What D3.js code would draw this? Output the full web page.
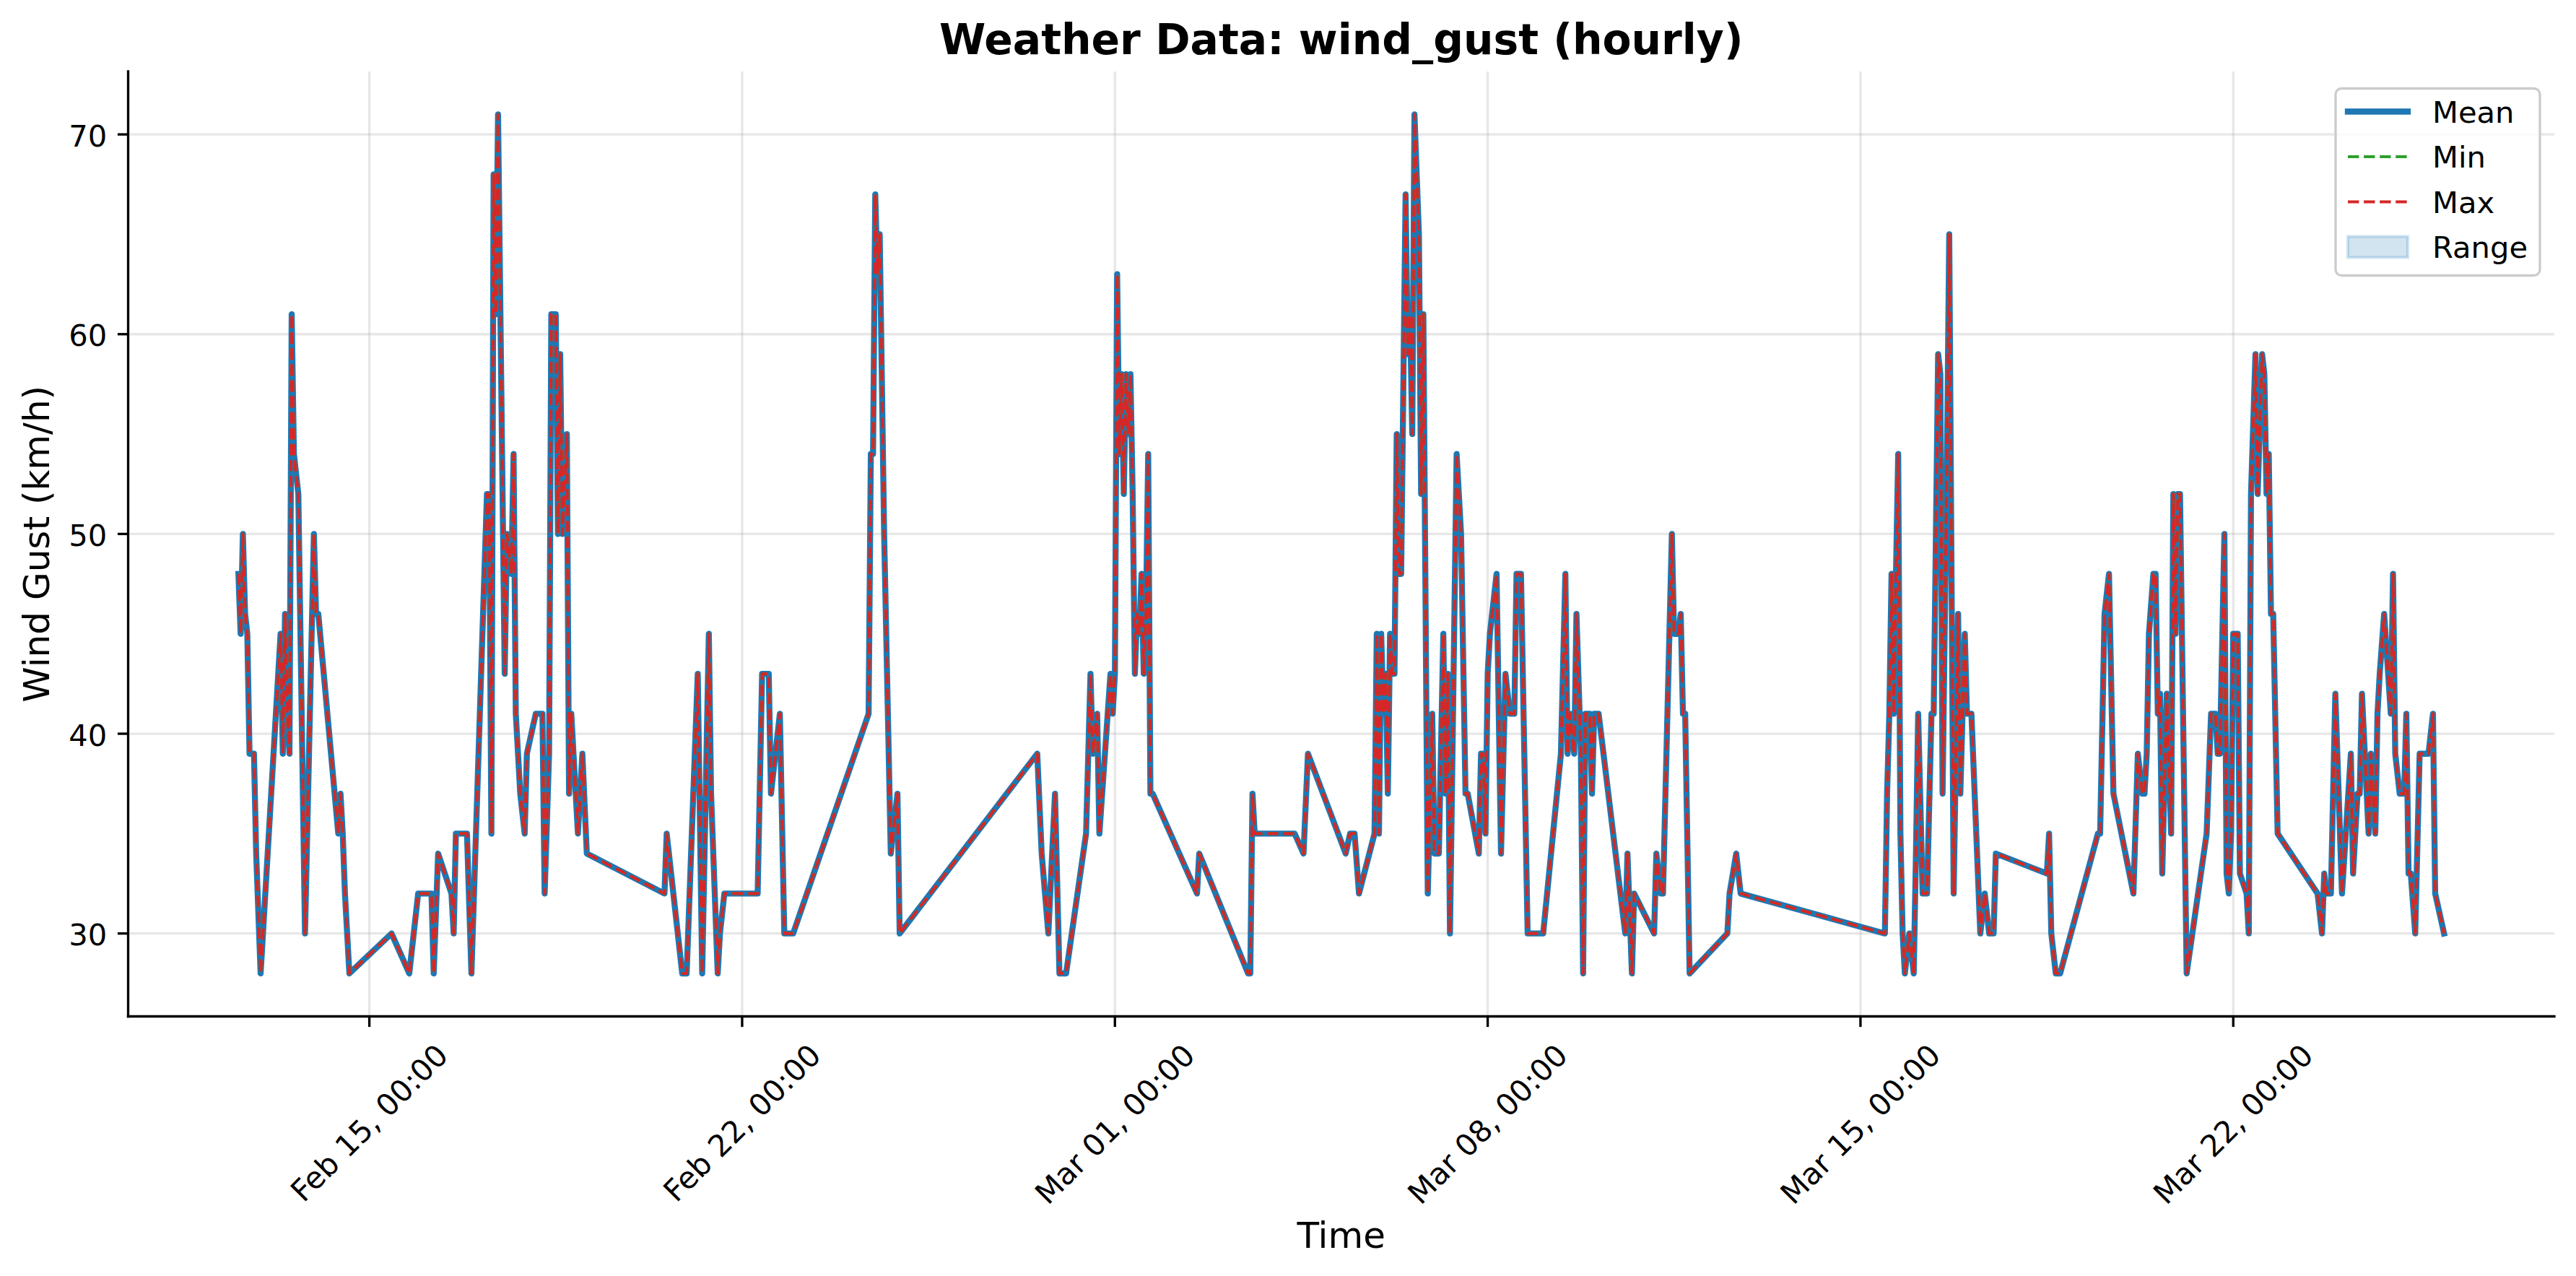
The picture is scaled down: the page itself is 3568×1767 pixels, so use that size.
<!DOCTYPE html>
<html>
<head>
<meta charset="utf-8">
<script src="https://cdn.jsdelivr.net/npm/d3@7"></script>
<style>
html,body{margin:0;padding:0;background:#ffffff;}
svg{display:block;}
</style>
</head>
<body>
<div id="chart"></div>
<script>
// ---------------- DATA ----------------
const dataYear = 2025;
const timeLabels = [
"02-12 13:00","02-12 14:00","02-12 15:00","02-12 16:00","02-12 17:00","02-12 18:00","02-12 20:00","02-12 21:00","02-12 23:00",
"02-13 08:00","02-13 09:00","02-13 10:00","02-13 11:00","02-13 12:00","02-13 13:00","02-13 14:00","02-13 16:00","02-13 19:00","02-13 23:00",
"02-14 00:00","02-14 01:00","02-14 10:00","02-14 11:00","02-14 12:00","02-14 13:00","02-14 15:00",
"02-15 10:00","02-15 18:00","02-15 22:00","02-16 04:00","02-16 05:00","02-16 07:00","02-16 13:00","02-16 14:00","02-16 15:00","02-16 20:00","02-16 22:00",
"02-17 05:00","02-17 06:00","02-17 07:00","02-17 08:00","02-17 09:00","02-17 10:00","02-17 13:00","02-17 14:00","02-17 16:00","02-17 17:00","02-17 18:00","02-17 20:00","02-17 22:00","02-17 23:00",
"02-18 03:00","02-18 06:00","02-18 07:00","02-18 09:00","02-18 10:00","02-18 12:00","02-18 13:00","02-18 14:00","02-18 15:00","02-18 17:00","02-18 18:00","02-18 19:00","02-18 20:00","02-18 22:00",
"02-19 00:00","02-19 02:00",
"02-20 13:00","02-20 14:00","02-20 15:00","02-20 21:00","02-20 23:00","02-21 04:00","02-21 06:00","02-21 09:00","02-21 10:00","02-21 13:00","02-21 14:00","02-21 16:00",
"02-22 07:00","02-22 09:00","02-22 12:00","02-22 13:00","02-22 15:00","02-22 17:00","02-22 19:00","02-22 23:00",
"02-24 09:00","02-24 10:00","02-24 11:00","02-24 12:00","02-24 13:00","02-24 14:00","02-24 16:00","02-24 19:00","02-24 22:00","02-24 23:00",
"02-27 13:00","02-27 15:00","02-27 18:00","02-27 21:00","02-27 23:00","02-28 02:00","02-28 11:00","02-28 12:00","02-28 13:00","02-28 14:00","02-28 16:00","02-28 17:00","02-28 22:00","02-28 23:00",
"03-01 00:00","03-01 01:00","03-01 02:00","03-01 03:00","03-01 04:00","03-01 05:00","03-01 06:00","03-01 07:00","03-01 08:00","03-01 09:00","03-01 10:00","03-01 11:00","03-01 12:00","03-01 13:00","03-01 14:00","03-01 15:00","03-01 16:00","03-01 17:00",
"03-02 13:00","03-02 14:00","03-03 12:00","03-03 13:00","03-03 14:00","03-03 15:00","03-03 16:00","03-04 09:00","03-04 13:00","03-04 15:00",
"03-05 08:00","03-05 10:00","03-05 12:00","03-05 14:00",
"03-05 21:00","03-05 22:00","03-05 23:00","03-06 00:00","03-06 01:00","03-06 02:00","03-06 03:00","03-06 04:00","03-06 05:00","03-06 06:00","03-06 07:00","03-06 08:00","03-06 09:00",
"03-06 11:00","03-06 12:00","03-06 13:00","03-06 14:00","03-06 15:00","03-06 17:00","03-06 18:00","03-06 19:00","03-06 21:00","03-06 23:00",
"03-07 00:00","03-07 02:00","03-07 04:00","03-07 05:00","03-07 06:00","03-07 07:00","03-07 10:00","03-07 12:00","03-07 14:00","03-07 15:00","03-07 20:00","03-07 21:00","03-07 22:00","03-07 23:00",
"03-08 00:00","03-08 01:00","03-08 04:00","03-08 06:00","03-08 08:00","03-08 10:00","03-08 12:00","03-08 13:00","03-08 15:00","03-08 18:00",
"03-09 01:00","03-09 09:00","03-09 11:00","03-09 12:00","03-09 13:00","03-09 15:00","03-09 16:00","03-09 18:00","03-09 19:00","03-09 20:00","03-09 22:00","03-09 23:00",
"03-10 00:00","03-10 02:00","03-10 14:00","03-10 15:00","03-10 17:00","03-10 18:00",
"03-11 03:00","03-11 04:00","03-11 06:00","03-11 07:00","03-11 11:00","03-11 12:00","03-11 14:00","03-11 15:00","03-11 16:00","03-11 17:00","03-11 19:00",
"03-12 12:00","03-12 13:00","03-12 16:00","03-12 18:00",
"03-15 11:00","03-15 12:00","03-15 13:00","03-15 14:00","03-15 15:00","03-15 16:00","03-15 17:00","03-15 18:00","03-15 19:00","03-15 20:00","03-15 22:00",
"03-16 00:00","03-16 01:00","03-16 02:00","03-16 04:00","03-16 06:00","03-16 08:00","03-16 09:00","03-16 11:00","03-16 12:00","03-16 13:00","03-16 15:00","03-16 16:00","03-16 18:00","03-16 20:00","03-16 21:00","03-16 23:00",
"03-17 00:00","03-17 02:00","03-17 06:00","03-17 08:00","03-17 10:00","03-17 12:00","03-17 13:00",
"03-18 12:00","03-18 13:00","03-18 14:00","03-18 16:00","03-18 18:00",
"03-19 11:00","03-19 12:00","03-19 14:00","03-19 16:00","03-19 18:00",
"03-20 03:00","03-20 05:00","03-20 07:00","03-20 08:00","03-20 09:00","03-20 10:00","03-20 12:00","03-20 13:00","03-20 14:00","03-20 15:00","03-20 16:00","03-20 18:00","03-20 20:00","03-20 21:00","03-20 22:00","03-20 23:00",
"03-21 00:00","03-21 03:00","03-21 12:00","03-21 14:00","03-21 16:00","03-21 17:00","03-21 18:00","03-21 20:00","03-21 21:00","03-21 22:00","03-21 23:00",
"03-22 00:00","03-22 02:00","03-22 03:00","03-22 06:00","03-22 07:00","03-22 08:00","03-22 10:00","03-22 11:00","03-22 13:00","03-22 14:00","03-22 15:00","03-22 16:00","03-22 17:00","03-22 18:00","03-22 20:00",
"03-23 14:00","03-23 16:00","03-23 17:00","03-23 18:00","03-23 20:00","03-23 22:00",
"03-24 01:00","03-24 05:00","03-24 06:00","03-24 08:00","03-24 09:00","03-24 10:00","03-24 13:00","03-24 14:00","03-24 16:00","03-24 17:00","03-24 18:00","03-24 20:00","03-24 23:00",
"03-25 00:00","03-25 01:00","03-25 03:00","03-25 05:00","03-25 06:00","03-25 07:00","03-25 08:00","03-25 10:00","03-25 12:00","03-25 16:00","03-25 18:00","03-25 19:00","03-25 23:00"
];

const gustMean = [
48,45,50,46,45,39,39,34,28,
45,39,46,41,39,61,54,52,30,50,
46,46,35,37,35,32,28,
30,28,32,32,28,34,32,30,35,35,28,
52,52,35,68,61,71,43,50,48,54,41,37,35,39,
41,41,32,39,61,61,50,59,50,55,37,41,39,35,
39,34,
32,35,34,28,28,43,28,45,37,28,30,32,
32,43,43,37,39,41,30,30,
41,54,54,67,63,65,50,34,37,30,
39,34,30,37,28,28,35,39,43,39,41,35,43,41,
43,63,54,58,52,58,55,58,52,43,46,45,48,43,46,54,37,37,
32,34,28,28,37,35,35,35,34,39,
34,35,35,32,
35,45,35,45,41,43,37,45,43,43,55,48,48,
67,59,61,55,71,65,52,61,32,41,
34,34,45,37,43,30,54,50,37,37,34,39,39,35,
43,45,48,34,43,41,41,48,48,30,
30,39,48,39,41,39,46,39,28,41,41,37,
41,41,30,34,28,32,
30,34,32,32,50,45,45,46,41,41,28,
30,32,34,32,
30,37,41,48,41,48,54,35,30,28,30,
28,34,41,32,32,41,41,59,58,37,54,65,32,46,37,45,
41,41,30,32,30,30,34,
33,35,30,28,28,
35,35,46,48,37,
32,39,37,37,39,45,48,48,41,42,33,42,35,52,45,52,
52,28,35,41,41,39,39,50,33,32,35,
45,45,33,32,30,52,59,52,59,58,52,54,46,46,35,
32,30,33,32,32,42,
32,39,33,37,37,42,35,39,35,41,43,46,41,
48,39,37,37,41,33,33,30,39,39,41,32,30
];

const gustMin = [
48,45,50,46,45,39,39,34,28,
45,39,46,41,39,61,54,52,30,50,
46,46,35,37,35,32,28,
30,28,32,32,28,34,32,30,35,35,28,
52,52,35,68,61,71,43,50,48,54,41,37,35,39,
41,41,32,39,61,61,50,59,50,55,37,41,39,35,
39,34,
32,35,34,28,28,43,28,45,37,28,30,32,
32,43,43,37,39,41,30,30,
41,54,54,67,63,65,50,34,37,30,
39,34,30,37,28,28,35,39,43,39,41,35,43,41,
43,63,54,58,52,58,55,58,52,43,46,45,48,43,46,54,37,37,
32,34,28,28,37,35,35,35,34,39,
34,35,35,32,
35,45,35,45,41,43,37,45,43,43,55,48,48,
67,59,61,55,71,65,52,61,32,41,
34,34,45,37,43,30,54,50,37,37,34,39,39,35,
43,45,48,34,43,41,41,48,48,30,
30,39,48,39,41,39,46,39,28,41,41,37,
41,41,30,34,28,32,
30,34,32,32,50,45,45,46,41,41,28,
30,32,34,32,
30,37,41,48,41,48,54,35,30,28,30,
28,34,41,32,32,41,41,59,58,37,54,65,32,46,37,45,
41,41,30,32,30,30,34,
33,35,30,28,28,
35,35,46,48,37,
32,39,37,37,39,45,48,48,41,42,33,42,35,52,45,52,
52,28,35,41,41,39,39,50,33,32,35,
45,45,33,32,30,52,59,52,59,58,52,54,46,46,35,
32,30,33,32,32,42,
32,39,33,37,37,42,35,39,35,41,43,46,41,
48,39,37,37,41,33,33,30,39,39,41,32,30
];

const gustMax = [
48,45,50,46,45,39,39,34,28,
45,39,46,41,39,61,54,52,30,50,
46,46,35,37,35,32,28,
30,28,32,32,28,34,32,30,35,35,28,
52,52,35,68,61,71,43,50,48,54,41,37,35,39,
41,41,32,39,61,61,50,59,50,55,37,41,39,35,
39,34,
32,35,34,28,28,43,28,45,37,28,30,32,
32,43,43,37,39,41,30,30,
41,54,54,67,63,65,50,34,37,30,
39,34,30,37,28,28,35,39,43,39,41,35,43,41,
43,63,54,58,52,58,55,58,52,43,46,45,48,43,46,54,37,37,
32,34,28,28,37,35,35,35,34,39,
34,35,35,32,
35,45,35,45,41,43,37,45,43,43,55,48,48,
67,59,61,55,71,65,52,61,32,41,
34,34,45,37,43,30,54,50,37,37,34,39,39,35,
43,45,48,34,43,41,41,48,48,30,
30,39,48,39,41,39,46,39,28,41,41,37,
41,41,30,34,28,32,
30,34,32,32,50,45,45,46,41,41,28,
30,32,34,32,
30,37,41,48,41,48,54,35,30,28,30,
28,34,41,32,32,41,41,59,58,37,54,65,32,46,37,45,
41,41,30,32,30,30,34,
33,35,30,28,28,
35,35,46,48,37,
32,39,37,37,39,45,48,48,41,42,33,42,35,52,45,52,
52,28,35,41,41,39,39,50,33,32,35,
45,45,33,32,30,52,59,52,59,58,52,54,46,46,35,
32,30,33,32,32,42,
32,39,33,37,37,42,35,39,35,41,43,46,41,
48,39,37,37,41,33,33,30,39,39,41,32,30
];

const xTickLabels = ["02-15 00:00","02-22 00:00","03-01 00:00","03-08 00:00","03-15 00:00","03-22 00:00"];
const yTickValues = [30, 40, 50, 60, 70];
const legendLabels = ["Mean", "Min", "Max", "Range"];
const chartTitle = "Weather Data: wind_gust (hourly)";
const xAxisTitle = "Time";
const yAxisTitle = "Wind Gust (km/h)";

// ---------------- LAYOUT ----------------
const W = 3568, H = 1767;
const PT = 300 / 72;               // px per point at 300 dpi
const plot = {left: 177.5, right: 3538, top: 99, bottom: 1407.5};
const FONT = "'DejaVu Sans', 'Liberation Sans', sans-serif";
const tickFS = 10 * PT, labelFS = 12 * PT, titleFS = 14 * PT;
const tickLen = 3.5 * PT, tickPad = 3.5 * PT, spineW = 0.8 * PT;
const C = {mean: "#1f77b4", min: "#2ca02c", max: "#d62728"};

const parseT = d3.utcParse("%Y-%m-%d %H:%M");
const rows = timeLabels.map((s, i) => ({
  t: parseT(dataYear + "-" + s),
  mean: gustMean[i], min: gustMin[i], max: gustMax[i]
}));
const xTicks = xTickLabels.map(s => parseT(dataYear + "-" + s));

// scales with matplotlib-like 5% margins
const tExt = d3.extent(rows, d => d.t);
const tPad = (tExt[1] - tExt[0]) * 0.05;
const x = d3.scaleUtc()
  .domain([new Date(+tExt[0] - tPad), new Date(+tExt[1] + tPad)])
  .range([plot.left, plot.right]);
const vLo = d3.min(rows, d => d.min), vHi = d3.max(rows, d => d.max);
const vPad = (vHi - vLo) * 0.05;
const y = d3.scaleLinear().domain([vLo - vPad, vHi + vPad]).range([plot.bottom, plot.top]);

const svg = d3.select("#chart").append("svg")
  .attr("width", W).attr("height", H)
  .attr("viewBox", `0 0 ${W} ${H}`)
  .style("font-family", FONT);
svg.append("rect").attr("width", W).attr("height", H).attr("fill", "#ffffff");

// grid
const grid = svg.append("g").attr("stroke", "#b0b0b0").attr("stroke-opacity", 0.3).attr("stroke-width", spineW);
grid.selectAll("line.gx").data(xTicks).join("line")
  .attr("x1", d => x(d)).attr("x2", d => x(d)).attr("y1", plot.top).attr("y2", plot.bottom);
grid.selectAll("line.gy").data(yTickValues).join("line")
  .attr("x1", plot.left).attr("x2", plot.right).attr("y1", d => y(d)).attr("y2", d => y(d));

// range band
const area = d3.area().x(d => x(d.t)).y0(d => y(d.min)).y1(d => y(d.max));
svg.append("path").datum(rows).attr("d", area)
  .attr("fill", C.mean).attr("fill-opacity", 0.2)
  .attr("stroke", C.mean).attr("stroke-opacity", 0.2).attr("stroke-width", 1 * PT);

// lines
const mkLine = key => d3.line().x(d => x(d.t)).y(d => y(d[key]));
svg.append("path").datum(rows).attr("d", mkLine("mean"))
  .attr("fill", "none").attr("stroke", C.mean).attr("stroke-width", 2 * PT)
  .attr("stroke-linejoin", "round").attr("stroke-linecap", "square");
const dash = `${3.7 * PT},${1.6 * PT}`;
["min", "max"].forEach(k => {
  svg.append("path").datum(rows).attr("d", mkLine(k))
    .attr("fill", "none").attr("stroke", C[k]).attr("stroke-width", 1 * PT)
    .attr("stroke-dasharray", dash)
    .attr("stroke-linejoin", "round").attr("stroke-linecap", "butt");
});

// axes
const fmt = d3.utcFormat("%b %d, %H:%M");
const xAxis = d3.axisBottom(x).tickValues(xTicks).tickFormat(fmt)
  .tickSizeInner(tickLen).tickSizeOuter(0).tickPadding(tickPad).offset(0);
const gx = svg.append("g").attr("transform", `translate(0,${plot.bottom})`).call(xAxis);
const yAxis = d3.axisLeft(y).tickValues(yTickValues).tickFormat(d3.format("d"))
  .tickSizeInner(tickLen).tickSizeOuter(0).tickPadding(tickPad).offset(0);
const gy = svg.append("g").attr("transform", `translate(${plot.left},0)`).call(yAxis);

[gx, gy].forEach(g => {
  g.select(".domain").attr("stroke", "#000").attr("stroke-width", spineW).attr("stroke-linecap", "square");
  g.selectAll(".tick line").attr("stroke", "#000").attr("stroke-width", spineW);
  g.selectAll(".tick text").attr("fill", "#000").style("font-family", FONT).attr("font-size", tickFS);
});
gy.selectAll(".tick text").attr("x", -(tickLen + tickPad)).attr("dy", null).attr("y", tickFS * 0.4)
  .attr("text-anchor", "end");

const textH = tickFS * 1.164;
gx.selectAll(".tick text").each(function () {
  const el = d3.select(this);
  const w = this.getComputedTextLength();
  const side = (w + textH) / Math.SQRT2;
  el.attr("text-anchor", "middle").attr("x", 0).attr("dy", null)
    .attr("y", tickFS * 0.346)
    .attr("transform", `translate(0,${tickLen + tickPad + side / 2}) rotate(-45)`);
});

// titles
const cx = (plot.left + plot.right) / 2;
svg.append("text").attr("x", cx).attr("y", plot.top - 6 * PT + 0.5)
  .attr("text-anchor", "middle").attr("font-size", titleFS).attr("font-weight", "bold")
  .attr("fill", "#000").text(chartTitle);
svg.append("text").attr("x", cx).attr("y", 1728)
  .attr("text-anchor", "middle").attr("font-size", labelFS).attr("fill", "#000").text(xAxisTitle);
svg.append("text").attr("transform", `translate(68,${(plot.top + plot.bottom) / 2}) rotate(-90)`)
  .attr("text-anchor", "middle").attr("font-size", labelFS).attr("fill", "#000").text(yAxisTitle);

// legend
const lg = svg.append("g");
const lBox = {x: 3235, y: 122.5, w: 283, h: 259};
lg.append("rect").attr("x", lBox.x).attr("y", lBox.y).attr("width", lBox.w).attr("height", lBox.h)
  .attr("rx", 0.2 * tickFS).attr("ry", 0.2 * tickFS)
  .attr("fill", "#ffffff").attr("fill-opacity", 0.8)
  .attr("stroke", "#cccccc").attr("stroke-width", spineW);
const rowY = [154.5, 217, 279.5, 342];
const hx0 = 3252, hx1 = 3335, tx = 3369;
// Mean
lg.append("line").attr("x1", hx0).attr("x2", hx1).attr("y1", rowY[0]).attr("y2", rowY[0])
  .attr("stroke", C.mean).attr("stroke-width", 2 * PT).attr("stroke-linecap", "square");
// Min / Max
[["min", 1], ["max", 2]].forEach(([k, i]) => {
  lg.append("line").attr("x1", hx0).attr("x2", hx1).attr("y1", rowY[i]).attr("y2", rowY[i])
    .attr("stroke", C[k]).attr("stroke-width", 1 * PT).attr("stroke-dasharray", dash);
});
// Range
lg.append("rect").attr("x", hx0).attr("y", rowY[3] - 14.5).attr("width", hx1 - hx0).attr("height", 29)
  .attr("fill", C.mean).attr("fill-opacity", 0.2)
  .attr("stroke", C.mean).attr("stroke-opacity", 0.2).attr("stroke-width", 1 * PT);
lg.selectAll("text.lt").data(legendLabels).join("text")
  .attr("x", tx).attr("y", (d, i) => rowY[i] + 0.36 * tickFS)
  .attr("font-size", tickFS).attr("fill", "#000").text(d => d);
</script>
</body>
</html>
